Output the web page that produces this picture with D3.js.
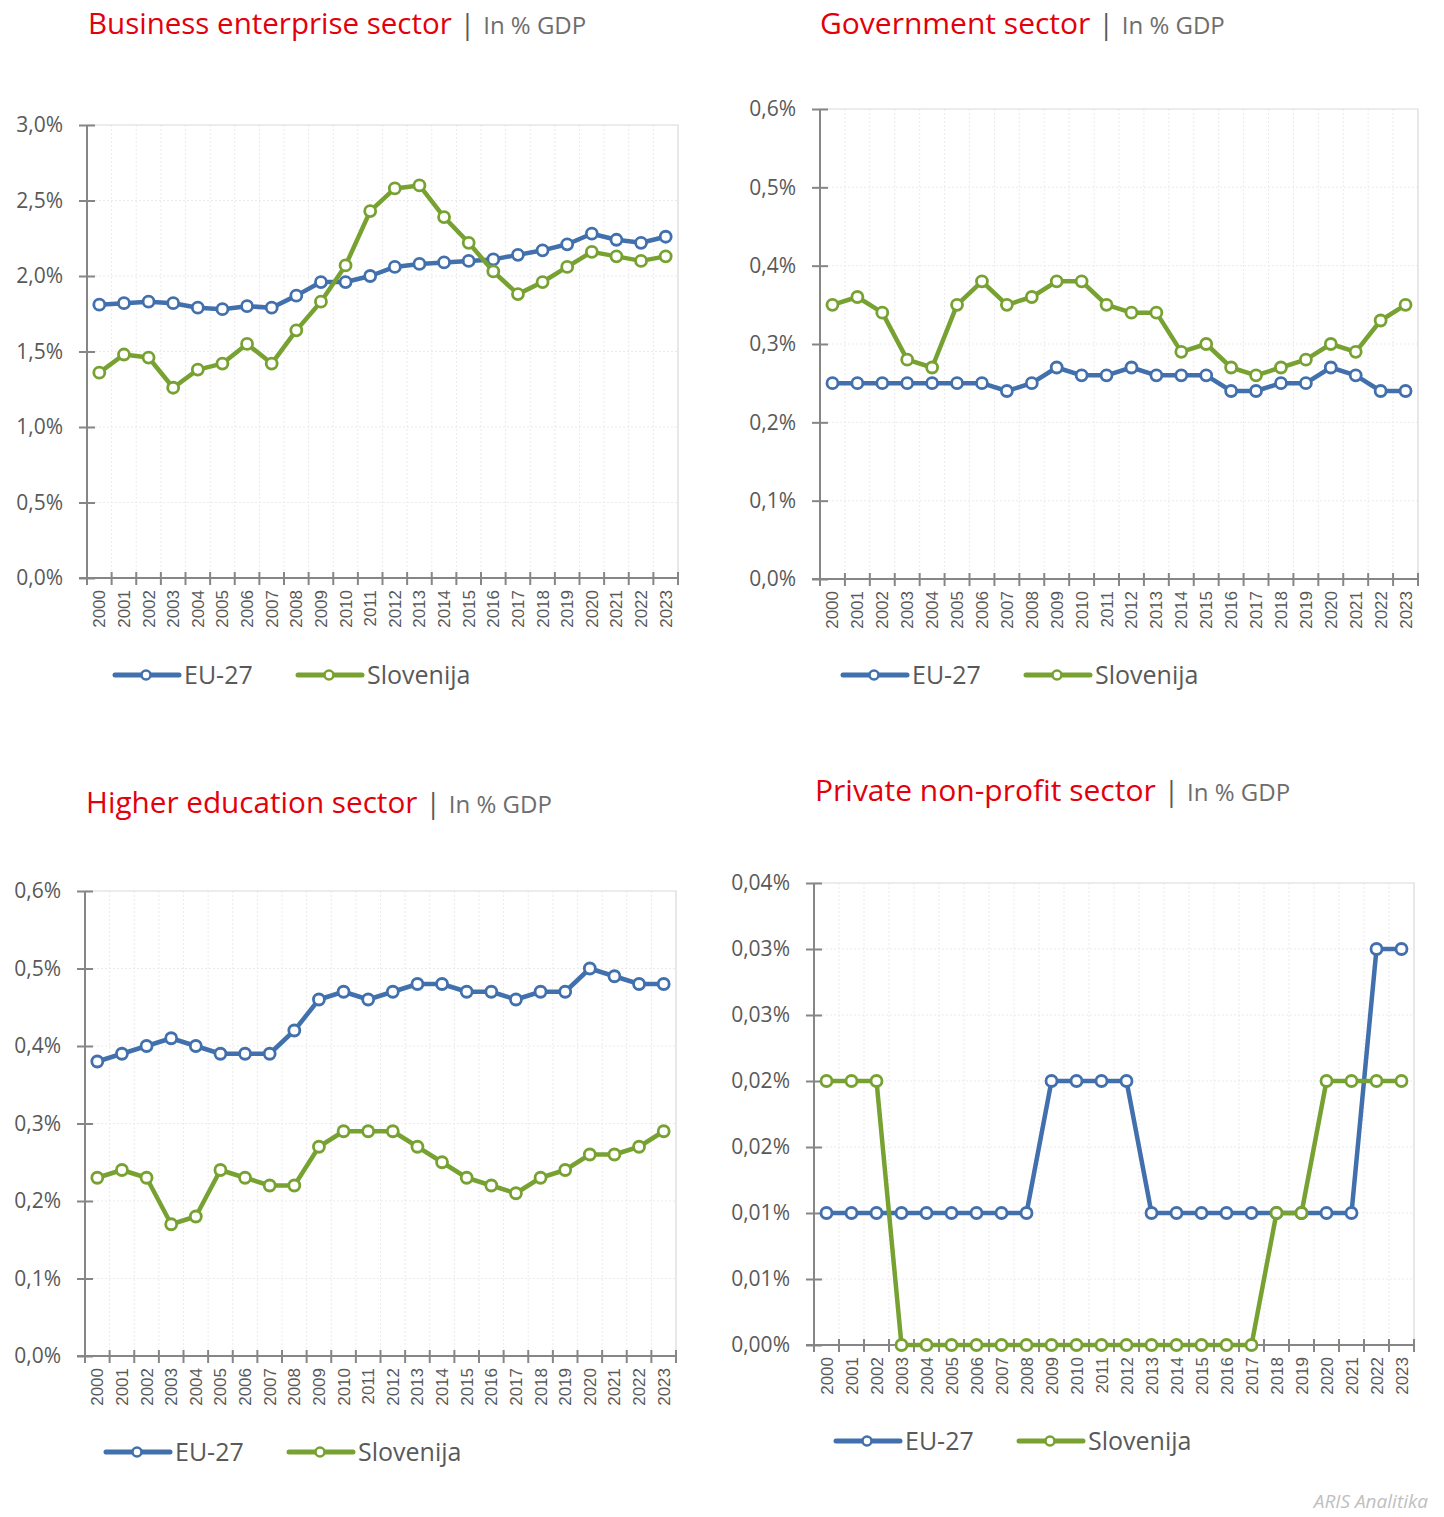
<!DOCTYPE html>
<html>
<head>
<meta charset="utf-8">
<script src="https://cdn.jsdelivr.net/npm/d3@7"></script>
<style>
  body { margin: 0; background: #fff; }
  svg { display: block; }
</style>
</head>
<body>
<svg id="chart" width="1444" height="1517"></svg>
<script>
// categories
const years = ['2000', '2001', '2002', '2003', '2004', '2005', '2006', '2007', '2008', '2009', '2010', '2011',
  '2012', '2013', '2014', '2015', '2016', '2017', '2018', '2019', '2020', '2021', '2022', '2023'];

const seriesNames = ['EU-27', 'Slovenija'];

// business enterprise sector, % GDP
const businessEU = [1.81, 1.82, 1.83, 1.82, 1.79, 1.78, 1.80, 1.79, 1.87, 1.96, 1.96, 2.00,
  2.06, 2.08, 2.09, 2.10, 2.11, 2.14, 2.17, 2.21, 2.28, 2.24, 2.22, 2.26];
const businessSI = [1.36, 1.48, 1.46, 1.26, 1.38, 1.42, 1.55, 1.42, 1.64, 1.83, 2.07, 2.43,
  2.58, 2.60, 2.39, 2.22, 2.03, 1.88, 1.96, 2.06, 2.16, 2.13, 2.10, 2.13];

// government sector
const governmentEU = [0.25, 0.25, 0.25, 0.25, 0.25, 0.25, 0.25, 0.24, 0.25, 0.27, 0.26, 0.26,
  0.27, 0.26, 0.26, 0.26, 0.24, 0.24, 0.25, 0.25, 0.27, 0.26, 0.24, 0.24];
const governmentSI = [0.35, 0.36, 0.34, 0.28, 0.27, 0.35, 0.38, 0.35, 0.36, 0.38, 0.38, 0.35,
  0.34, 0.34, 0.29, 0.30, 0.27, 0.26, 0.27, 0.28, 0.30, 0.29, 0.33, 0.35];

// higher education sector
const higherEU = [0.38, 0.39, 0.40, 0.41, 0.40, 0.39, 0.39, 0.39, 0.42, 0.46, 0.47, 0.46,
  0.47, 0.48, 0.48, 0.47, 0.47, 0.46, 0.47, 0.47, 0.50, 0.49, 0.48, 0.48];
const higherSI = [0.23, 0.24, 0.23, 0.17, 0.18, 0.24, 0.23, 0.22, 0.22, 0.27, 0.29, 0.29,
  0.29, 0.27, 0.25, 0.23, 0.22, 0.21, 0.23, 0.24, 0.26, 0.26, 0.27, 0.29];

// private non-profit sector
const privateEU = [0.01, 0.01, 0.01, 0.01, 0.01, 0.01, 0.01, 0.01, 0.01, 0.02, 0.02, 0.02,
  0.02, 0.01, 0.01, 0.01, 0.01, 0.01, 0.01, 0.01, 0.01, 0.01, 0.03, 0.03];
const privateSI = [0.02, 0.02, 0.02, 0, 0, 0, 0, 0, 0, 0, 0, 0,
  0, 0, 0, 0, 0, 0, 0.01, 0.01, 0.02, 0.02, 0.02, 0.02];

// y tick values (value axis)
const ticksBusiness = [0, 0.5, 1.0, 1.5, 2.0, 2.5, 3.0];
const ticksGovernment = [0, 0.1, 0.2, 0.3, 0.4, 0.5, 0.6];
const ticksHigher = [0, 0.1, 0.2, 0.3, 0.4, 0.5, 0.6];
const ticksPrivate = [0, 0.005, 0.01, 0.015, 0.02, 0.025, 0.03, 0.035];

const colors = { 'EU-27': '#4170ad', Slovenija: '#77a232' };

const panels = [
  {
    title: 'Business enterprise sector', eu: businessEU, si: businessSI, ticks: ticksBusiness, dec: 1,
    left: 87, right: 678, top: 125, bottom: 578, titleX: 88, titleY: 34, titleSize: 29.5,
    legendX: 115, legendY: 675,
  },
  {
    title: 'Government sector', eu: governmentEU, si: governmentSI, ticks: ticksGovernment, dec: 1,
    left: 820, right: 1418, top: 109, bottom: 579, titleX: 820, titleY: 34, titleSize: 30,
    legendX: 843, legendY: 675,
  },
  {
    title: 'Higher education sector', eu: higherEU, si: higherSI, ticks: ticksHigher, dec: 1,
    left: 85, right: 676, top: 891, bottom: 1356, titleX: 86, titleY: 813, titleSize: 29.7,
    legendX: 106, legendY: 1452,
  },
  {
    title: 'Private non-profit sector', eu: privateEU, si: privateSI, ticks: ticksPrivate, dec: 2,
    left: 814, right: 1414, top: 883, bottom: 1345, titleX: 815, titleY: 801, titleSize: 30,
    legendX: 836, legendY: 1441,
  },
];

const svg = d3.select('#chart');
const textGray = '#595959';
const axisGray = '#868686';

// excel-like rounding of tick labels, comma decimal
function fmtPct(v, dec) {
  const f = 10 ** dec;
  const r = Math.round(v * f + 1e-9) / f;
  return `${r.toFixed(dec).replace('.', ',')}%`;
}

function drawPanel(p) {
  const g = svg.append('g').attr('class', 'panel');

  const x = d3.scaleBand()
    .domain(years)
    .range([p.left, p.right]);
  const y = d3.scaleLinear()
    .domain([0, d3.max(p.ticks)])
    .range([p.bottom, p.top]);

  // title
  const t = g.append('text')
    .attr('x', p.titleX)
    .attr('y', p.titleY)
    .style('font-family', '"Open Sans", sans-serif');
  t.append('tspan')
    .attr('fill', '#e3000b')
    .style('font-size', `${p.titleSize}px`)
    .text(p.title);
  t.append('tspan')
    .attr('fill', textGray)
    .attr('dx', 8)
    .style('font-size', '28px')
    .text('|');
  t.append('tspan')
    .attr('fill', '#6e6e6e')
    .attr('dx', 8)
    .style('font-size', '24px')
    .text('In % GDP');

  // grid (dotted)
  g.append('g')
    .selectAll('line')
    .data(years.slice(1))
    .join('line')
      .attr('x1', (d) => x(d))
      .attr('x2', (d) => x(d))
      .attr('y1', p.top)
      .attr('y2', p.bottom)
      .attr('stroke', '#ebebeb')
      .attr('stroke-dasharray', '2,2');
  g.append('g')
    .selectAll('line')
    .data(p.ticks.slice(1, -1))
    .join('line')
      .attr('x1', p.left)
      .attr('x2', p.right)
      .attr('y1', (d) => y(d))
      .attr('y2', (d) => y(d))
      .attr('stroke', '#ebebeb')
      .attr('stroke-dasharray', '2,2');

  // plot area border top/right
  g.append('path')
    .attr('d', `M${p.left},${p.top}H${p.right}V${p.bottom}`)
    .attr('fill', 'none')
    .attr('stroke', '#d9d9d9')
    .attr('stroke-width', 1.2);

  // y axis
  const yAxis = g.append('g')
    .attr('transform', `translate(${p.left},0)`)
    .call(d3.axisLeft(y).tickValues(p.ticks).tickSize(0).tickPadding(24)
      .tickFormat((d) => fmtPct(d, p.dec)));
  yAxis.select('.domain').remove();
  yAxis.selectAll('text')
    .attr('fill', textGray)
    .style('font-family', '"Open Sans", sans-serif')
    .style('font-size', '21px');
  yAxis.append('line')
    .attr('y1', p.top)
    .attr('y2', p.bottom)
    .attr('stroke', axisGray)
    .attr('stroke-width', 2);
  yAxis.selectAll('.tick')
    .append('line')
      .attr('x1', -8)
      .attr('x2', 8)
      .attr('stroke', axisGray)
      .attr('stroke-width', 2);

  // x axis
  const xAxis = g.append('g')
    .attr('transform', `translate(0,${p.bottom})`);
  xAxis.append('line')
    .attr('x1', p.left - 8)
    .attr('x2', p.right)
    .attr('stroke', axisGray)
    .attr('stroke-width', 2);
  xAxis.selectAll('.xt')
    .data(years.concat(['end']))
    .join('line')
      .attr('class', 'xt')
      .attr('x1', (d, i) => p.left + i * x.bandwidth())
      .attr('x2', (d, i) => p.left + i * x.bandwidth())
      .attr('y1', -6)
      .attr('y2', 7)
      .attr('stroke', axisGray)
      .attr('stroke-width', 2);
  xAxis.selectAll('.xl')
    .data(years)
    .join('text')
      .attr('class', 'xl')
      .attr('transform', (d) => `translate(${x(d) + x.bandwidth() / 2 + 6},${12}) rotate(-90)`)
      .attr('text-anchor', 'end')
      .attr('fill', textGray)
      .style('font-family', '"Liberation Sans", Arial, sans-serif')
      .style('font-size', '17px')
      .text((d) => d);

  // series
  const line = d3.line()
    .x((d) => x(d.year) + x.bandwidth() / 2)
    .y((d) => y(d.value));
  const series = [
    { name: seriesNames[0], values: p.eu },
    { name: seriesNames[1], values: p.si },
  ];
  series.forEach((s) => {
    const pts = years.map((yr, i) => ({ year: yr, value: s.values[i] }));
    g.append('path')
      .datum(pts)
      .attr('d', line)
      .attr('fill', 'none')
      .attr('stroke', colors[s.name])
      .attr('stroke-width', 4.5)
      .attr('stroke-linejoin', 'round');
    g.append('g')
      .selectAll('circle')
      .data(pts)
      .join('circle')
        .attr('cx', (d) => x(d.year) + x.bandwidth() / 2)
        .attr('cy', (d) => y(d.value))
        .attr('r', 5.5)
        .attr('fill', '#fff')
        .attr('stroke', colors[s.name])
        .attr('stroke-width', 2.8);
  });

  // legend
  const lg = g.append('g')
    .attr('transform', `translate(${p.legendX},${p.legendY})`);
  const offsets = [0, 183];
  series.forEach((s, i) => {
    const item = lg.append('g')
      .attr('transform', `translate(${offsets[i]},0)`);
    item.append('line')
      .attr('x1', 0)
      .attr('x2', 64)
      .attr('stroke', colors[s.name])
      .attr('stroke-width', 5)
      .attr('stroke-linecap', 'round');
    item.append('circle')
      .attr('cx', 31)
      .attr('r', 4.5)
      .attr('fill', '#fff')
      .attr('stroke', colors[s.name])
      .attr('stroke-width', 2.6);
    item.append('text')
      .attr('x', 69)
      .attr('y', 9)
      .attr('fill', textGray)
      .style('font-family', '"Open Sans", sans-serif')
      .style('font-size', '25px')
      .text(s.name);
  });
}

panels.forEach(drawPanel);

// footer
svg.append('text')
  .attr('x', 1428)
  .attr('y', 1508)
  .attr('text-anchor', 'end')
  .attr('fill', '#c0c0c0')
  .style('font-family', '"Open Sans", sans-serif')
  .style('font-style', 'italic')
  .style('font-size', '19px')
  .text('ARIS Analitika');
</script>
</body>
</html>
